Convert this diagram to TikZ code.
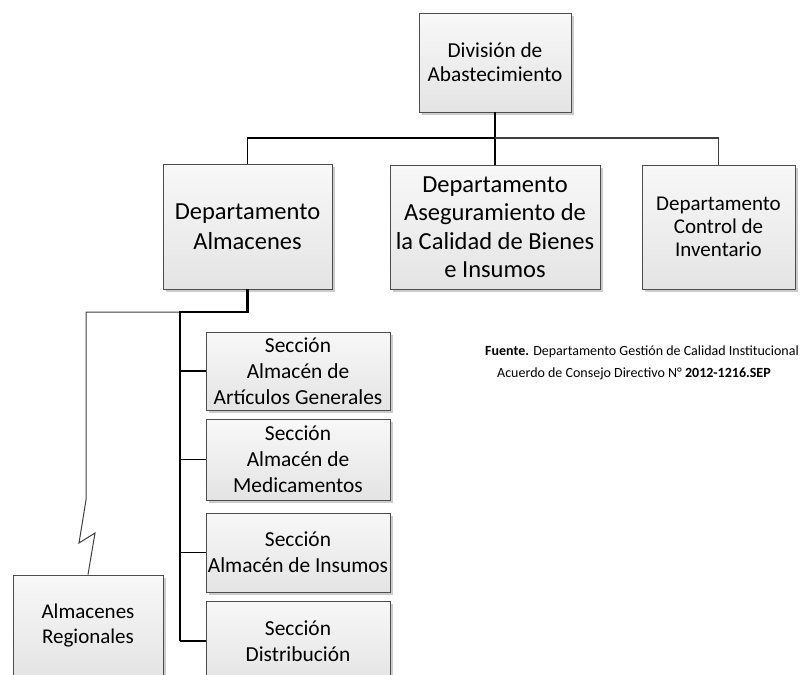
\documentclass[tikz,border=0pt]{standalone}
\usepackage{fontspec}
\setmainfont{Carlito}
\usetikzlibrary{shadows}
\definecolor{boxline}{HTML}{4D4D4D}
\definecolor{boxtop}{HTML}{F8F8F8}
\definecolor{boxbot}{HTML}{E4E4E4}
\definecolor{shadowc}{HTML}{CCCCCC}
\definecolor{linegray}{HTML}{404040}
\newcommand\fsz[2]{\fontsize{#1pt}{#2pt}\selectfont}
\begin{document}
\begin{tikzpicture}[x=1pt,y=-1pt,
  box/.style={draw=boxline, line width=0.9pt, top color=boxtop, bottom color=boxbot,
    inner sep=0pt, align=center,
    general shadow={shadow xshift=3pt, shadow yshift=-3pt, fill=shadowc}},
  conn/.style={draw=black, line width=1.5pt},
  conngray/.style={draw=linegray, line width=1.1pt},
  bar/.style={draw=black, line width=2.5pt},
  thinc/.style={draw=linegray, line width=1pt, line join=miter},
  note/.style={anchor=west, inner sep=0pt, font=\fsz{14}{16}}]
\fill[white] (0,0) rectangle (804,675);
\useasboundingbox (0,0) rectangle (804,675);

% boxes
\node[box, minimum width=152pt, minimum height=99pt, font=\fsz{21.3}{24}] (top) at (495,62.5) {División de\\Abastecimiento};
\node[box, minimum width=169pt, minimum height=125pt, font=\fsz{24.5}{30}] (b1) at (247.5,226.5) {Departamento\\Almacenes};
\node[box, minimum width=210pt, minimum height=124pt, font=\fsz{24.5}{28.5}] (b2) at (495,227) {Departamento\\Aseguramiento de\\la Calidad de Bienes\\e Insumos};
\node[box, minimum width=153pt, minimum height=124pt, font=\fsz{21}{23}] (b3) at (718.5,227) {Departamento\\Control de\\Inventario};

\node[box, minimum width=184pt, minimum height=78pt, font=\fsz{21.4}{26}] (sA) at (298,371) {Sección\\Almacén de\\Artículos Generales};
\node[box, minimum width=184pt, minimum height=81pt, font=\fsz{21.4}{26}] (sB) at (298,459.5) {Sección\\Almacén de\\Medicamentos};
\node[box, minimum width=184pt, minimum height=79pt, font=\fsz{21.4}{26}] (sC) at (298,552.5) {Sección\\Almacén de Insumos};
\node[box, minimum width=184pt, minimum height=80pt, font=\fsz{21.4}{26}] (sD) at (298,641) {Sección\\Distribución};
\node[box, minimum width=150pt, minimum height=102pt, font=\fsz{21}{25}] (reg) at (88,626) {Almacenes\\Regionales};

% top connectors
\coordinate (bus) at (0,138);
\draw[conn] (top.south) -- (top.south |- bus);
\draw[conn] (b1.north) |- (b2.north |- bus) -- (b2.north);
\draw[conngray] (b2.north |- bus) -| (b3.north);

% lower connectors
\coordinate (j) at (180,312);
\coordinate (k1) at (86,312);
\coordinate (k2) at (86,500);
\coordinate (k3) at (79,543);
\coordinate (k4) at (95,533);
\draw[thinc] (j) -- (k1) -- (k2) -- (k3) -- (k4) -- (reg.north);
\draw[bar] (b1.south) |- (j) -- (j |- sD.west);
\draw[conn] (j |- sA.west) -- (sA.west);
\draw[conn] (j |- sB.west) -- (sB.west);
\draw[conn] (j |- sC.west) -- (sC.west);
\draw[conn] (j |- sD.west) -- (sD.west);

% notes
\node[note] (n1) at (485,352) {\textbf{Fuente.} Departamento Gestión de Calidad Institucional};
\node[note] (n2) at (497,374) {Acuerdo de Consejo Directivo N° \textbf{2012-1216.SEP}};
\end{tikzpicture}
\end{document}
